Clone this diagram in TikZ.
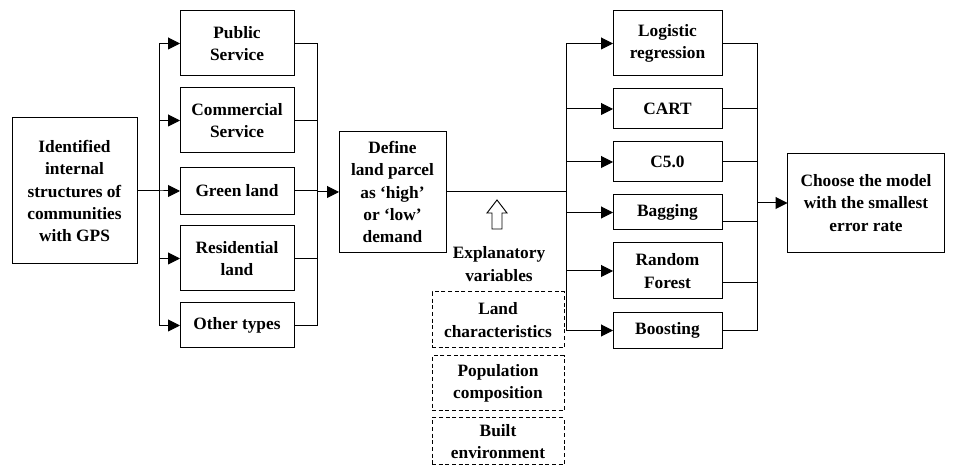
\documentclass[tikz,border=0pt]{standalone}
\usepackage{fontspec}
\setmainfont{Liberation Serif}
\usetikzlibrary{arrows.meta}

\tikzset{
  blk/.style={draw,line width=0.75pt,align=center,inner sep=1pt,outer sep=0pt},
  dblk/.style={blk,dash pattern=on 3pt off 2pt},
  arr/.style={-{Triangle[length=9pt,width=9pt]}},
}

\begin{document}
\begin{tikzpicture}[x=0.75pt,y=-0.75pt,line width=0.75pt,
  font=\fontsize{13}{16.8}\selectfont\bfseries]
  \useasboundingbox (0,0) rectangle (961,466);

  % left: identified structures and land-use types
  \node[blk,minimum width=93.75pt,minimum height=109.5pt] (ident) at (74.5,191)
    {Identified\\internal\\structures of\\communities\\with GPS};
  \node[blk,minimum width=85.5pt,minimum height=48.75pt] (pub) at (237,43.5) {Public\\Service};
  \node[blk,minimum width=85.5pt,minimum height=48.75pt] (com) at (237,120.5) {Commercial\\Service};
  \node[blk,minimum width=85.5pt,minimum height=35.25pt] (grn) at (237,191) {Green land};
  \node[blk,minimum width=85.5pt,minimum height=48.75pt] (res) at (237,258.5) {Residential\\land};
  \node[blk,minimum width=85.5pt,minimum height=33.75pt] (oth) at (237,325.5) {Other types};
  \coordinate (ljoin) at (159,191);
  \coordinate (rjoin) at (317,192);
  \foreach \b in {pub,com,grn,res,oth} {
    \draw[arr] (ident.east) -| (ljoin |- \b.west) -- (\b.west);
    \draw (\b.east) -| (rjoin);
  }

  % middle: demand definition and explanatory variables
  \node[blk,minimum width=80.25pt,minimum height=90.75pt] (def) at (392.5,192)
    {Define\\land parcel\\as `high'\\or `low'\\demand};
  \draw[arr] (rjoin) -- (def.west |- rjoin);
  \draw[line width=0.7pt] (497,200) -- (507,213) -- (502,213) -- (502,229)
    -- (492,229) -- (492,213) -- (487,213) -- cycle;
  \node[align=center] (expl) at (499,264) {Explanatory\\variables};
  \node[dblk,minimum width=99pt,minimum height=42pt] (land) at (498,320) {Land\\characteristics};
  \node[dblk,minimum width=99pt,minimum height=41.25pt] (pop) at (498,383.5) {Population\\composition};
  \node[dblk,minimum width=99pt,minimum height=35.25pt] (built) at (498,441.5) {Built\\environment};

  % right: models and final choice
  \node[blk,minimum width=81.75pt,minimum height=48.75pt] (logit) at (667.5,43.5) {Logistic\\regression};
  \node[blk,minimum width=81.75pt,minimum height=30pt] (cart) at (667.5,109) {CART};
  \node[blk,minimum width=81.75pt,minimum height=30pt] (c50) at (667.5,162) {C5.0};
  \node[blk,minimum width=81.75pt,minimum height=26.25pt] (bag) at (667.5,212.5) {Bagging};
  \node[blk,minimum width=81.75pt,minimum height=42pt] (rf) at (667.5,271) {Random\\Forest};
  \node[blk,minimum width=81.75pt,minimum height=27pt] (boost) at (667.5,330.5) {Boosting};
  \node[blk,minimum width=117.75pt,minimum height=74.25pt] (choose) at (866,203)
    {Choose the model\\with the smallest\\error rate};
  \coordinate (mjoin) at (566,192);
  \coordinate (ojoin) at (757,203);
  \foreach \m/\s in {logit/0,cart/0,c50/0,bag/-7,rf/-9,boost/0} {
    \draw[arr] (def.east) -| (mjoin |- \m.west) -- (\m.west);
    \draw ([yshift=\s pt]\m.east) -| (ojoin);
  }
  \draw[arr] (ojoin) -- (choose.west |- ojoin);
\end{tikzpicture}
\end{document}
